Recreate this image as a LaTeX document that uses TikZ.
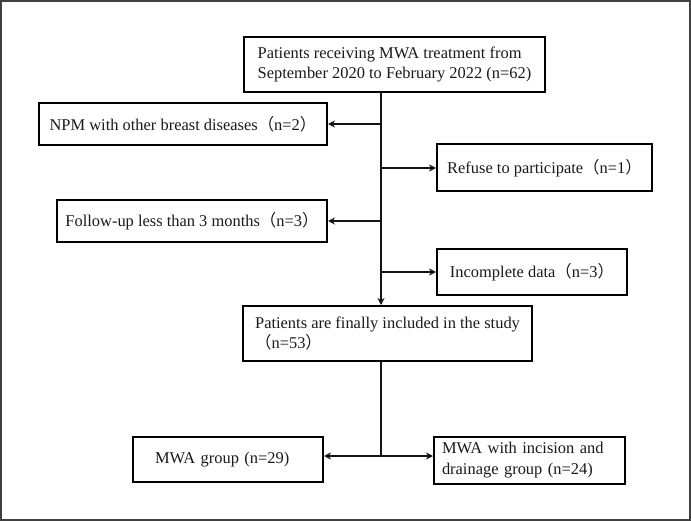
\documentclass[tikz,border=0pt]{standalone}
\usepackage{fontspec}
\setmainfont{Liberation Serif}
\newfontfamily\cjkf{Noto Sans CJK SC}
\usetikzlibrary{arrows.meta}
\newcommand{\flp}{{\cjkf （}}
\newcommand{\frp}{{\cjkf ）}}
\begin{document}
\begin{tikzpicture}[x=1bp,y=-1bp,
  box/.style={draw=black, line width=2bp, inner sep=0pt,
    font=\fontsize{16.5}{21}\selectfont, text=black!90},
  conn/.style={line width=2bp, draw=black!92, -{Stealth[length=7bp,width=7bp]}},
  line/.style={line width=2bp, draw=black!92}]
\useasboundingbox (0,0) rectangle (691,521);
\draw[draw=black!75, line width=2bp] (1,1) rectangle (690,520);

\node[box, minimum width=301bp, minimum height=55bp, align=left] (top) at (394.5,64.5)
  {Patients receiving MWA treatment from\\September 2020 to February 2022 (n=62)};
\node[box, minimum width=288bp, minimum height=42bp, align=center] (npm) at (183,124)
  {NPM with other breast diseases\flp n=2\frp};
\node[box, minimum width=215bp, minimum height=47bp, align=center] (refuse) at (544.5,168)
  {Refuse to participate\flp n=1\frp};
\node[box, minimum width=270bp, minimum height=42bp, align=center] (follow) at (192,221)
  {Follow-up less than 3 months\flp n=3\frp};
\node[box, minimum width=190bp, minimum height=46bp, align=center] (incomp) at (532,272)
  {Incomplete data\flp n=3\frp};
\node[box, minimum width=289bp, minimum height=55bp, align=left] (final) at (387.5,333.5)
  {Patients are finally included in the study\\\flp n=53\frp};
\node[box, minimum width=190bp, minimum height=45bp, text width=146bp, align=left] (mwa) at (228,459.5)
  {MWA group (n=29)};
\node[box, minimum width=191bp, minimum height=47bp, text width=175bp, align=left] (inc) at (529.5,460.5)
  {MWA with incision and\\drainage group (n=24)};

\coordinate (tk) at (381,0);
\coordinate (sp) at (381,456);

\draw[conn] (top.south -| tk) -- (final.north -| tk);
\draw[conn] (tk |- npm.east) -- (npm.east);
\draw[conn] (tk |- refuse.west) -- (refuse.west);
\draw[conn] (tk |- follow.east) -- (follow.east);
\draw[conn] (tk |- incomp.west) -- (incomp.west);
\draw[line] (final.south -| tk) -- (sp);
\draw[conn] (sp) -- (sp -| mwa.east);
\draw[conn] (sp) -- (sp -| inc.west);
\end{tikzpicture}
\end{document}
